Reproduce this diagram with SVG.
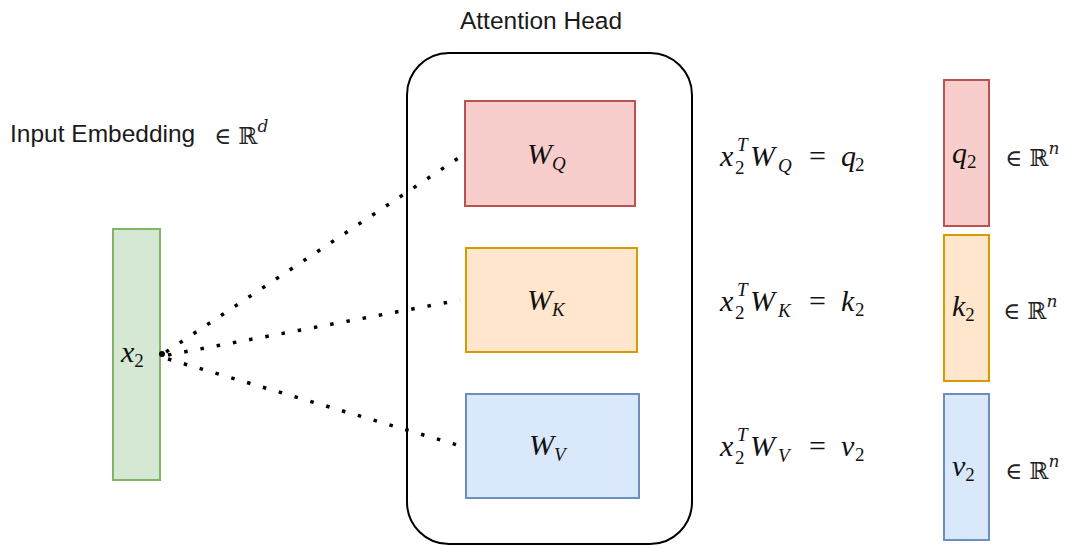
<svg xmlns="http://www.w3.org/2000/svg" width="1072" height="546" viewBox="0 0 1072 546">
<style>
.lbl{font-family:"Liberation Sans",Arial,sans-serif;font-size:24.5px;fill:#1a1a1a}
.m{font-family:"Liberation Serif","Times New Roman",serif;font-style:italic;font-size:30px;fill:#111}
.up{font-style:normal}
.sb{font-size:19px}
.set{font-family:"DejaVu Serif","Liberation Serif",serif;font-size:23px;fill:#222}
.dot{fill:none;stroke:#000;stroke-width:3.5;stroke-dasharray:3.5 13}
</style>
<rect width="1072" height="546" fill="#fff"/>
<g id="input-label">
<text class="lbl" x="10" y="142">Input Embedding</text>
<text class="set" x="214" y="144">∈ ℝ<tspan font-style="italic" font-size="17" dy="-12">d</tspan></text>
</g>
<g id="head-title"><text class="lbl" x="541" y="29" text-anchor="middle">Attention Head</text></g>
<g id="attention-head"><rect x="407" y="53" width="285" height="491" rx="42" fill="none" stroke="#000" stroke-width="2"/></g>
<g id="x2"><rect x="113" y="229" width="47" height="251" fill="#d5e8d4" stroke="#82b366" stroke-width="2"/>
<text class="m" x="121" y="362">x<tspan class="up sb" dy="5">2</tspan></text></g>
<g id="WQ"><rect x="465" y="101" width="170" height="105" fill="#f8cecc" stroke="#b85450" stroke-width="2"/>
<text class="m" x="527" y="164">W<tspan class="sb" dy="6">Q</tspan></text></g>
<g id="WK"><rect x="466" y="248" width="171" height="104" fill="#ffe6cc" stroke="#d79b00" stroke-width="2"/>
<text class="m" x="527" y="310">W<tspan class="sb" dy="6">K</tspan></text></g>
<g id="WV"><rect x="466" y="394" width="173" height="104" fill="#dae8fc" stroke="#6c8ebf" stroke-width="2"/>
<text class="m" x="529" y="455">W<tspan class="sb" dy="6">V</tspan></text></g>
<g id="connectors">
<circle cx="162" cy="354" r="3" fill="#000"/>
<path class="dot" d="M166 352 L460 157"/>
<path class="dot" d="M168 355 L460 300"/>
<path class="dot" d="M168 359 L464 447"/>
</g>
<g id="eqQ"><text class="m" y="166"><tspan x="720">x</tspan><tspan class="up sb" x="735" y="174">2</tspan><tspan class="sb" x="737" y="151">T</tspan><tspan x="750" y="166">W</tspan><tspan class="sb" x="778" y="172">Q</tspan><tspan class="up" x="809" y="166">=</tspan><tspan x="841" y="166">q</tspan><tspan class="up sb" x="855" y="171">2</tspan></text></g>
<g id="eqK"><text class="m" y="311"><tspan x="720">x</tspan><tspan class="up sb" x="735" y="319">2</tspan><tspan class="sb" x="737" y="296">T</tspan><tspan x="750" y="311">W</tspan><tspan class="sb" x="778" y="317">K</tspan><tspan class="up" x="809" y="311">=</tspan><tspan x="841" y="311">k</tspan><tspan class="up sb" x="855" y="316">2</tspan></text></g>
<g id="eqV"><text class="m" y="456"><tspan x="720">x</tspan><tspan class="up sb" x="735" y="464">2</tspan><tspan class="sb" x="737" y="441">T</tspan><tspan x="750" y="456">W</tspan><tspan class="sb" x="778" y="462">V</tspan><tspan class="up" x="809" y="456">=</tspan><tspan x="841" y="456">v</tspan><tspan class="up sb" x="855" y="461">2</tspan></text></g>
<g id="q2"><rect x="944" y="80" width="45" height="146" fill="#f8cecc" stroke="#b85450" stroke-width="2"/>
<text class="m" x="952" y="163">q<tspan class="up sb" dy="5">2</tspan></text>
<text class="set" x="1005" y="166">∈ ℝ<tspan font-style="italic" font-size="17" dy="-12">n</tspan></text></g>
<g id="k2"><rect x="944" y="235" width="45" height="146" fill="#ffe6cc" stroke="#d79b00" stroke-width="2"/>
<text class="m" x="952" y="316">k<tspan class="up sb" dy="5">2</tspan></text>
<text class="set" x="1003" y="319">∈ ℝ<tspan font-style="italic" font-size="17" dy="-12">n</tspan></text></g>
<g id="v2"><rect x="944" y="394" width="45" height="146" fill="#dae8fc" stroke="#6c8ebf" stroke-width="2"/>
<text class="m" x="952" y="476">v<tspan class="up sb" dy="5">2</tspan></text>
<text class="set" x="1005" y="479">∈ ℝ<tspan font-style="italic" font-size="17" dy="-12">n</tspan></text></g>
</svg>
